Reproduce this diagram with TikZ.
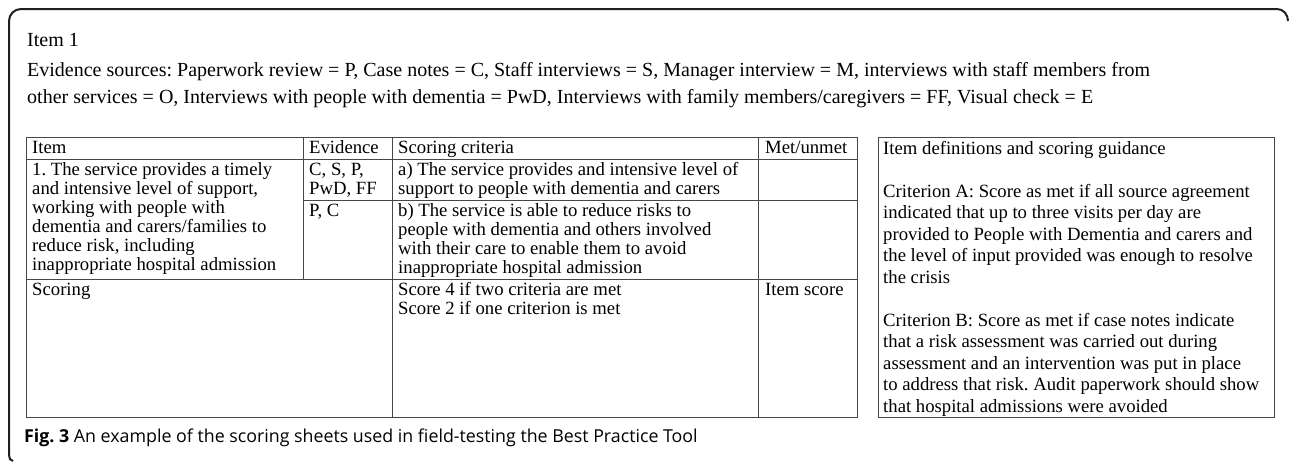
\documentclass[tikz,border=0pt]{standalone}
\usepackage{fontspec}
\setmainfont{Liberation Serif}
\newfontfamily\capfont{Open Sans}
\begin{document}
\frenchspacing
\begin{tikzpicture}[x=1pt,y=-1pt,
  tbl/.style={draw=black!72, line width=1pt},
  frameline/.style={draw=black!88, line width=2pt},
  cell/.style={anchor=north west, inner sep=0pt, align=left, font=\fontsize{18.7}{19}\selectfont},
  boxtxt/.style={anchor=north west, inner sep=0pt, align=left, font=\fontsize{18.7}{21.5}\selectfont},
  headtxt/.style={anchor=north west, inner sep=0pt, align=left, font=\fontsize{20}{27}\selectfont},
  captxt/.style={anchor=base west, inner sep=0pt, font=\capfont\fontsize{17.8}{20}\selectfont},
]
\useasboundingbox (0,0) rectangle (1292,461);
% outer frame (open at bottom and right)
\draw[frameline] (1288,21) to[out=90,in=0] (1277,9) -- (21,9) to[out=180,in=90] (9,21) -- (9,455) to[out=-90,in=180] (13,461);
% header texts
\node[anchor=base west, inner sep=0pt, font=\fontsize{20}{24}\selectfont] (item1) at (27,46) {Item 1};
\node[headtxt] (evid) at (27,57.1) {\strut Evidence sources: Paperwork review = P, Case notes = C, Staff interviews = S, Manager interview = M, interviews with staff members from\\ other services = O, Interviews with people with dementia = PwD, Interviews with family members/caregivers = FF, Visual check = E};
% table grid
\draw[tbl] (26,137) rectangle (857,417);
\draw[tbl] (26,159) -- (857,159);
\draw[tbl] (303,200) -- (857,200);
\draw[tbl] (26,279) -- (857,279);
\draw[tbl] (303,137) -- (303,279);
\draw[tbl] (392,137) -- (392,417);
\draw[tbl] (758,137) -- (758,417);
% table header (baseline 153; strut height 13.3)
\node[cell] (hItem) at (32,139.7) {\strut Item};
\node[cell] (hEv) at (309,139.7) {\strut Evidence};
\node[cell] (hSc) at (398,139.7) {\strut Scoring criteria};
\node[cell] (hMet) at (765,139.7) {\strut Met/unmet};
% rows (first baseline 175)
\node[cell] (itemtxt) at (32,161.7) {\strut 1. The service provides a timely\\ and intensive level of support,\\ working with people with\\ dementia and carers/families to\\ reduce risk, including\\ inappropriate hospital admission};
\node[cell] (eva) at (309,161.7) {\strut C, S, P,\\ PwD, FF};
\node[cell] (cra) at (398,161.7) {\strut a) The service provides and intensive level of\\ support to people with dementia and carers};
% row b (first baseline 216)
\node[cell] (evb) at (309,202.7) {\strut P, C};
\node[cell] (crb) at (398,202.7) {\strut b) The service is able to reduce risks to\\ people with dementia and others involved\\ with their care to enable them to avoid\\ inappropriate hospital admission};
% scoring row (first baseline 295)
\node[cell] (scoring) at (32,281.7) {\strut Scoring};
\node[cell] (scoretxt) at (398,281.7) {\strut Score 4 if two criteria are met\\ Score 2 if one criterion is met};
\node[cell] (itemscore) at (765,281.7) {\strut Item score};
% right box (first baseline 154, pitch 21.5)
\draw[tbl] (878,137) rectangle (1274,417);
\node[boxtxt] (guide) at (883,138.95) {\strut Item definitions and scoring guidance\\ \strut\\ Criterion A: Score as met if all source agreement\\ indicated that up to three visits per day are\\ provided to People with Dementia and carers and\\ the level of input provided was enough to resolve\\ the crisis\\ \strut\\ Criterion B: Score as met if case notes indicate\\ that a risk assessment was carried out during\\ assessment and an intervention was put in place\\ to address that risk. Audit paperwork should show\\ that hospital admissions were avoided};
% caption
\node[captxt] (cap) at (24,442) {\textbf{Fig. 3} An example of the scoring sheets used in field-testing the Best Practice Tool};
\end{tikzpicture}
\end{document}
